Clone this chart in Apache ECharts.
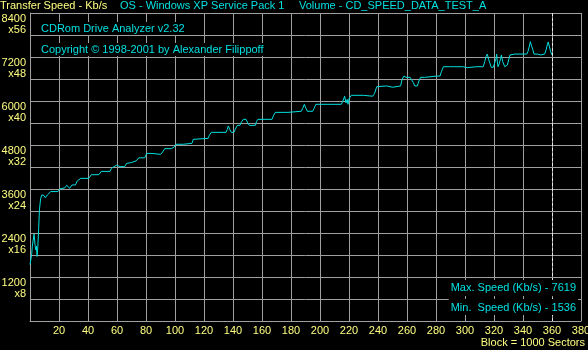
<!DOCTYPE html>
<html>
<head>
<meta charset="utf-8">
<script src="https://cdn.jsdelivr.net/npm/echarts@6/dist/echarts.min.js"></script>
<style>
    html, body { margin: 0; padding: 0; background: #000; }
    #speedChart { width: 588px; height: 350px; }
</style>
</head>
<body>
<div id="speedChart"></div>
<script>
// block number (1 block = 1000 sectors)
var blocks = [0, 0.6, 1.2, 1.6, 2.2, 2.8, 3.2, 3.6, 4.0, 4.4, 4.9, 5.4, 6.0, 6.5, 7.3, 8.2, 8.8, 9.7, 10.6, 12.0,
    14.3, 19.3, 20.5, 23.9, 25.3, 27.4, 29.0, 31.3, 32.6, 35.0, 40.5, 42.3, 47.4, 49.2, 55.2, 56.1, 57.9, 59.8, 61.1, 62.1,
    65.3, 66.7, 69.9, 73.3, 75.0, 79.1, 80.5, 84.1, 85.0, 90.1, 91.5, 92.9, 97.5, 98.4, 99.3, 100.7, 105.7, 106.7, 111.7, 112.6,
    113.6, 122.8, 123.7, 125.0, 135.2, 136.1, 136.8, 137.9, 138.9, 140.7, 141.6, 143.0, 144.8, 145.7, 147.1, 149.0, 150.3, 151.3, 155.4, 156.3,
    157.2, 166.9, 167.8, 169.2, 177.9, 178.4, 187.1, 188.1, 189.2, 190.3, 191.3, 195.0, 195.9, 197.2, 214.7, 215.7, 217.0, 217.9, 218.8, 219.3,
    220.2, 221.6, 229.9, 230.8, 236.3, 237.7, 239.1, 240.0, 246.0, 246.4, 250.1, 250.6, 255.6, 256.6, 257.9, 259.3, 262.1, 263.4, 264.4, 265.3,
    267.1, 268.5, 269.4, 272.2, 273.1, 280.5, 281.4, 282.8, 283.7, 285.1, 290.1, 291.0, 291.9, 298.4, 299.3, 301.6, 302.6, 308.1, 309.0, 310.3,
    312.6, 313.6, 314.5, 315.4, 316.3, 317.2, 318.1, 319.5, 320.5, 321.4, 321.8, 322.3, 322.8, 323.7, 324.6, 325.1, 326.0, 327.4, 328.3, 329.2,
    330.1, 331.0, 331.5, 334.3, 335.2, 336.6, 342.5, 343.4, 344.4, 345.1, 345.7, 346.7, 347.6, 349.9, 350.8, 352.2, 353.1, 354.9, 355.9, 356.7,
    357.4, 358.1, 359.1, 360.0];
// transfer speed, Kb/s
var speeds = [1536, 1680, 1830, 2040, 2040, 2370, 2370, 2030, 1940, 2040, 1760, 2040, 2530, 3030, 3330, 3440, 3470, 3420, 3360, 3440,
    3530, 3530, 3600, 3630, 3700, 3620, 3710, 3710, 3820, 3890, 3890, 3990, 3990, 4080, 4080, 4160, 4210, 4250, 4300, 4210,
    4210, 4300, 4320, 4370, 4450, 4450, 4570, 4570, 4545, 4545, 4610, 4700, 4700, 4670, 4740, 4820, 4820, 4845, 4845, 4955,
    4980, 4980, 5065, 5145, 5145, 5230, 5320, 5210, 5145, 5145, 5230, 5335, 5335, 5420, 5500, 5500, 5390, 5335, 5335, 5445,
    5500, 5500, 5590, 5690, 5690, 5720, 5720, 5800, 5910, 5800, 5720, 5720, 5800, 5910, 5910, 5990, 6130, 5950, 6045, 5910,
    6075, 6155, 6155, 6130, 6130, 6210, 6390, 6410, 6410, 6375, 6375, 6410, 6410, 6590, 6680, 6645, 6645, 6665, 6500, 6410,
    6410, 6575, 6645, 6645, 6680, 6680, 6645, 6680, 6800, 6935, 6935, 6910, 6935, 6935, 6910, 6910, 6935, 6935, 6910, 6935,
    6935, 7075, 7210, 7280, 7135, 7025, 6920, 6920, 7045, 7165, 7280, 7075, 6935, 7025, 7165, 7255, 7075, 6935, 6920, 6980,
    7120, 7255, 7280, 7280, 7255, 7280, 7280, 7345, 7500, 7619, 7525, 7410, 7280, 7280, 7255, 7255, 7280, 7280, 7390, 7525,
    7610, 7500, 7345, 7255];
var maxSpeed = 7619;
var minSpeed = 1536;
var endBlock = 360;

var yellow = '#ffff80';
var cyan = '#00e0e0';
var gridColor = '#a0a0a0';
var font = '11px "Liberation Sans", Arial, sans-serif';

var chartDom = document.getElementById('speedChart');
var myChart = echarts.init(chartDom, null, {renderer: 'canvas'});
var option;

var points = [];
for (var i = 0; i < blocks.length; i++) {
    points.push([blocks[i], speeds[i]]);
}

option = {
    backgroundColor: '#000',
    animation: false,
    // keep the plot box fixed, labels may run outside it
    grid: {left: 30, right: 7, top: 13, bottom: 29, containLabel: false, outerBoundsMode: 'none'},
    xAxis: {
        type: 'value',
        min: 0,
        max: 380,
        interval: 20,
        axisLine: {lineStyle: {color: gridColor, width: 1}},
        axisTick: {show: false},
        splitLine: {show: true, lineStyle: {color: gridColor, width: 1}},
        axisLabel: {
            color: yellow,
            fontFamily: '"Liberation Sans", Arial, sans-serif',
            fontSize: 11,
            margin: 4,
            formatter: function (v) {
                return v === 0 ? '' : String(v);
            }
        }
    },
    yAxis: {
        type: 'value',
        min: 0,
        max: 8400,
        interval: 600,
        axisLine: {show: true, lineStyle: {color: gridColor, width: 1}},
        axisTick: {show: false},
        splitLine: {show: true, lineStyle: {color: gridColor, width: 1}},
        axisLabel: {
            color: yellow,
            fontFamily: '"Liberation Sans", Arial, sans-serif',
            fontSize: 11,
            lineHeight: 11,
            margin: 4,
            hideOverlap: false,
            formatter: function (v) {
                if (v === 0 || v % 1200 !== 0) return '';
                // two blank lines first so the value sits under its grid line
                // CD speed multiplier, 1x = 150 Kb/s
                return '\n\n' + v + '\nx' + (v / 150);
            }
        }
    },
    series: [{
        type: 'line',
        data: points,
        showSymbol: false,
        smooth: false,
        lineStyle: {color: cyan, width: 1},
        markLine: {
            silent: true,
            symbol: 'none',
            label: {show: false},
            lineStyle: {color: '#e8e8e8', width: 1, type: [3, 2]},
            data: [{xAxis: endBlock}]
        }
    }],
    graphic: [
        {type: 'text', z: 100, left: 0, top: 0, style: {text: 'Transfer Speed - Kb/s', fill: yellow, font: font}},
        {type: 'text', z: 100, left: 120, top: 0, style: {text: 'OS - Windows XP Service Pack 1', fill: cyan, font: font}},
        {type: 'text', z: 100, left: 299, top: 0, style: {text: 'Volume - CD_SPEED_DATA_TEST_A', fill: cyan, font: font}},
        {type: 'text', z: 100, left: 39, top: 22, style: {text: 'CDRom Drive Analyzer v2.32', fill: cyan, font: font,
            backgroundColor: '#000', padding: [1, 2, 1, 2]}},
        {type: 'text', z: 100, left: 39, top: 43, style: {text: 'Copyright \u00a9 1998-2001 by Alexander Filippoff', fill: cyan, font: font,
            backgroundColor: '#000', padding: [1, 2, 1, 2]}},
        {type: 'text', z: 100, right: 10, top: 280, style: {text: 'Max. Speed (Kb/s) - ' + maxSpeed, fill: cyan, font: font,
            backgroundColor: '#000', padding: [2, 2, 3, 2]}},
        {type: 'text', z: 100, right: 10, top: 299, style: {text: 'Min.  Speed (Kb/s) - ' + minSpeed, fill: cyan, font: font,
            backgroundColor: '#000', padding: [3, 2, 2, 2]}},
        {type: 'text', z: 100, right: 3, top: 337, style: {text: 'Block = 1000 Sectors', fill: yellow, font: font}}
    ]
};

option && myChart.setOption(option);
</script>
</body>
</html>
